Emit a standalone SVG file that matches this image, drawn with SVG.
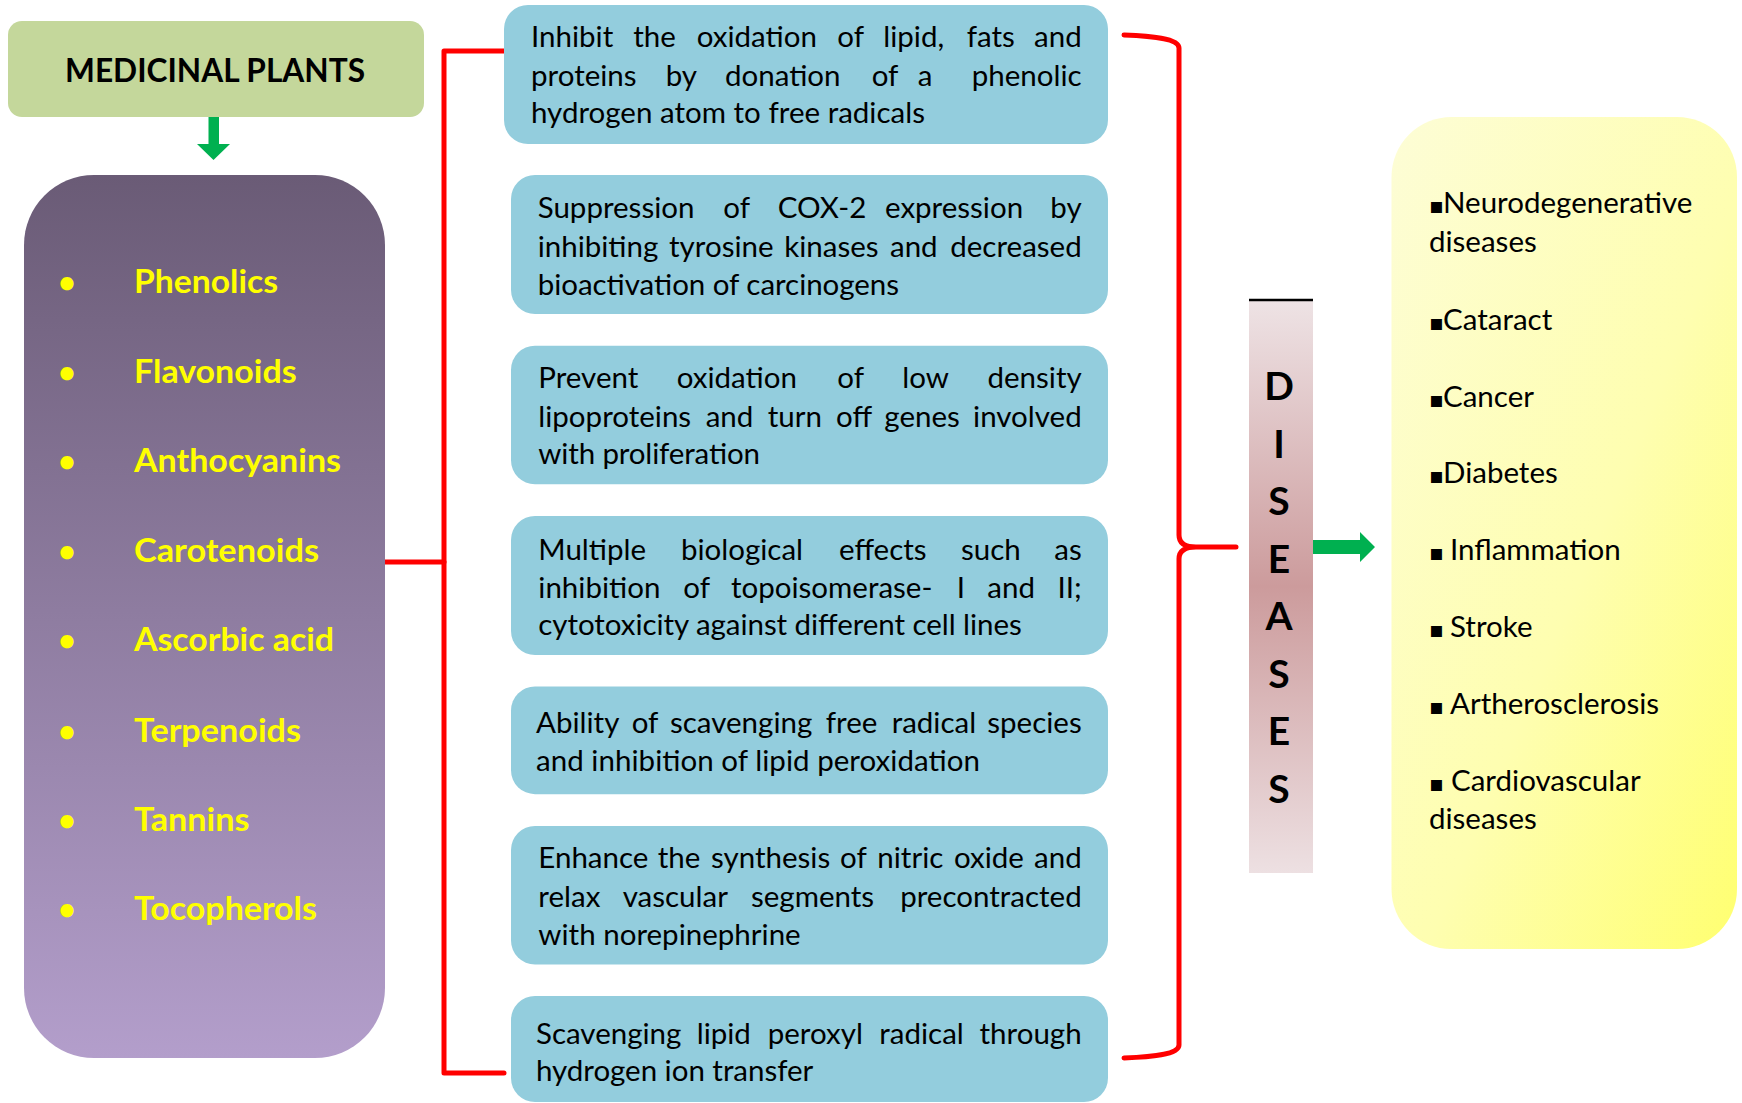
<svg xmlns="http://www.w3.org/2000/svg" width="1742" height="1103" viewBox="0 0 1742 1103">
<defs>
<linearGradient id="gPurple" x1="0" y1="0" x2="0" y2="1">
<stop offset="0" stop-color="#6a5b76"/>
<stop offset="1" stop-color="#b39ecb"/>
</linearGradient>
<linearGradient id="gDis" x1="0" y1="0" x2="0" y2="1">
<stop offset="0" stop-color="#eee3e5"/>
<stop offset="0.5" stop-color="#cc9b9c"/>
<stop offset="1" stop-color="#ede0e2"/>
</linearGradient>
<linearGradient id="gYellow" x1="0" y1="0" x2="1" y2="1">
<stop offset="0" stop-color="#fdfdd6"/>
<stop offset="0.55" stop-color="#fefeb0"/>
<stop offset="1" stop-color="#ffff70"/>
</linearGradient>
<style>
.blue{fill:#93cddd}
.t{font-family:Lato,"Liberation Sans",sans-serif;font-size:29.5px;fill:#000}
.e{text-anchor:end}
.it{font-family:Lato,"Liberation Sans",sans-serif;font-weight:bold;font-size:32.5px;fill:#ffff00}
.bu{font-family:Lato,"Liberation Sans",sans-serif;font-weight:bold;font-size:30px;fill:#ffff00;text-anchor:middle}
.ti{font-family:Lato,"Liberation Sans",sans-serif;font-weight:bold;font-size:32.5px;fill:#000}
.dl{font-family:Lato,"Liberation Sans",sans-serif;font-weight:bold;font-size:39px;fill:#000;text-anchor:middle}
.sq{font-family:"DejaVu Sans",sans-serif;font-size:22px}
.red{fill:none;stroke:#ff0000;stroke-width:5;stroke-linejoin:round;stroke-linecap:round}
.grn{fill:#00b050}
</style>
</defs>
<rect width="1742" height="1103" fill="#ffffff"/>

<g id="connectors">
<path class="red" d="M504,51 H444 V1073 H504"/>
<path class="red" d="M385,562 H444"/>
<path class="red" d="M1124,35 C1150,36 1179,38 1179,48 V535 Q1179,547 1196,547 L1236,547 M1196,547 Q1179,547 1179,559 V1045 C1179,1055 1150,1057 1124,1058"/>
<polygon class="grn" points="208.5,113 219,113 219,144 230,144 213.5,160 197,144 208.5,144"/>
<polygon class="grn" points="1313,540 1360,540 1360,532 1375,547 1360,562 1360,554 1313,554"/>
</g>

<g id="medicinal-plants">
<rect x="8" y="21" width="416" height="96" rx="14" fill="#c4d79b"/>
<text class="ti" x="65" y="82" textLength="300" lengthAdjust="spacingAndGlyphs">MEDICINAL PLANTS</text>
</g>

<g id="compounds">
<rect x="24" y="175" width="361" height="883" rx="70" fill="url(#gPurple)"/>
<text class="bu" x="67" y="293">•</text><text class="it" x="134" y="293" textLength="144" lengthAdjust="spacingAndGlyphs">Phenolics</text>
<text class="bu" x="67" y="382.5">•</text><text class="it" x="134" y="382.5" textLength="162.6" lengthAdjust="spacingAndGlyphs">Flavonoids</text>
<text class="bu" x="67" y="472">•</text><text class="it" x="134" y="472" textLength="207" lengthAdjust="spacingAndGlyphs">Anthocyanins</text>
<text class="bu" x="67" y="562">•</text><text class="it" x="134" y="562" textLength="185" lengthAdjust="spacingAndGlyphs">Carotenoids</text>
<text class="bu" x="67" y="651">•</text><text class="it" x="134" y="651" textLength="200" lengthAdjust="spacingAndGlyphs">Ascorbic acid</text>
<text class="bu" x="67" y="741.5">•</text><text class="it" x="134" y="741.5" textLength="167" lengthAdjust="spacingAndGlyphs">Terpenoids</text>
<text class="bu" x="67" y="831">•</text><text class="it" x="134" y="831" textLength="115.5" lengthAdjust="spacingAndGlyphs">Tannins</text>
<text class="bu" x="67" y="920">•</text><text class="it" x="134" y="920" textLength="183" lengthAdjust="spacingAndGlyphs">Tocopherols</text>
</g>

<g id="effect-1">
<rect class="blue" x="504" y="5" width="604" height="139" rx="24"/>
<text class="t" y="46.7"><tspan x="531">Inhibit</tspan><tspan x="633.3">the</tspan><tspan x="696.7">oxidation</tspan><tspan x="837.3">of</tspan><tspan x="883.3">lipid,</tspan><tspan x="966.7">fats</tspan><tspan class="e" x="1081.7">and</tspan></text>
<text class="t" y="86"><tspan x="531">proteins</tspan><tspan x="665.7">by</tspan><tspan x="725">donation</tspan><tspan x="871.7">of</tspan><tspan x="917.7">a</tspan><tspan class="e" x="1081.7">phenolic</tspan></text>
<text class="t" x="531" y="123.3" textLength="394" lengthAdjust="spacing">hydrogen atom to free radicals</text>
</g>

<g id="effect-2">
<rect class="blue" x="511" y="175" width="597" height="139" rx="24"/>
<text class="t" y="218.3"><tspan x="537.7">Suppression</tspan><tspan x="723.3">of</tspan><tspan x="777.7">COX-2</tspan><tspan x="885">expression</tspan><tspan class="e" x="1081.7">by</tspan></text>
<text class="t" y="256.7"><tspan x="537.7">inhibiting</tspan><tspan x="669">tyrosine</tspan><tspan x="784.3">kinases</tspan><tspan x="890">and</tspan><tspan class="e" x="1081.7">decreased</tspan></text>
<text class="t" x="537.7" y="295" textLength="361.3" lengthAdjust="spacing">bioactivation of carcinogens</text>
</g>

<g id="effect-3">
<rect class="blue" x="511" y="345.7" width="597" height="138.6" rx="24"/>
<text class="t" y="388.3"><tspan x="538.3">Prevent</tspan><tspan x="676.7">oxidation</tspan><tspan x="837.3">of</tspan><tspan x="902.3">low</tspan><tspan class="e" x="1081.7">density</tspan></text>
<text class="t" y="426.7"><tspan x="538.3">lipoproteins</tspan><tspan x="705.7">and</tspan><tspan x="767.7">turn</tspan><tspan x="836">off</tspan><tspan x="884.3">genes</tspan><tspan class="e" x="1081.7">involved</tspan></text>
<text class="t" x="538.3" y="464.3" textLength="221.7" lengthAdjust="spacing">with proliferation</text>
</g>

<g id="effect-4">
<rect class="blue" x="511" y="516" width="597" height="139" rx="24"/>
<text class="t" y="559.6"><tspan x="538.3">Multiple</tspan><tspan x="681">biological</tspan><tspan x="839">effects</tspan><tspan x="961">such</tspan><tspan class="e" x="1081.7">as</tspan></text>
<text class="t" y="598"><tspan x="538.3">inhibition</tspan><tspan x="683.3">of</tspan><tspan x="731">topoisomerase-</tspan><tspan x="956.7">I</tspan><tspan x="987.3">and</tspan><tspan class="e" x="1081.7">II;</tspan></text>
<text class="t" x="538.3" y="635.4" textLength="483.4" lengthAdjust="spacing">cytotoxicity against different cell lines</text>
</g>

<g id="effect-5">
<rect class="blue" x="511" y="686.5" width="597" height="107.7" rx="24"/>
<text class="t" y="732.7"><tspan x="536">Ability</tspan><tspan x="631.7">of</tspan><tspan x="670">scavenging</tspan><tspan x="825.7">free</tspan><tspan x="891.7">radical</tspan><tspan class="e" x="1081.7">species</tspan></text>
<text class="t" x="536" y="771" textLength="444" lengthAdjust="spacing">and inhibition of lipid peroxidation</text>
</g>

<g id="effect-6">
<rect class="blue" x="511" y="826" width="597" height="138.6" rx="24"/>
<text class="t" y="868"><tspan x="538.3">Enhance</tspan><tspan x="657.7">the</tspan><tspan x="711">synthesis</tspan><tspan x="840">of</tspan><tspan x="877.3">nitric</tspan><tspan x="954">oxide</tspan><tspan class="e" x="1081.7">and</tspan></text>
<text class="t" y="906.5"><tspan x="538.3">relax</tspan><tspan x="622.7">vascular</tspan><tspan x="751">segments</tspan><tspan class="e" x="1081.7">precontracted</tspan></text>
<text class="t" x="538.3" y="945" textLength="262.4" lengthAdjust="spacing">with norepinephrine</text>
</g>

<g id="effect-7">
<rect class="blue" x="511" y="996" width="597" height="106" rx="24"/>
<text class="t" y="1044"><tspan x="536">Scavenging</tspan><tspan x="696.7">lipid</tspan><tspan x="767.7">peroxyl</tspan><tspan x="879.3">radical</tspan><tspan class="e" x="1081.7">through</tspan></text>
<text class="t" x="536" y="1080.5" textLength="277.3" lengthAdjust="spacing">hydrogen ion transfer</text>
</g>

<g id="diseases-label">
<rect x="1249" y="300" width="64" height="573" fill="url(#gDis)"/>
<line x1="1249" y1="300" x2="1313" y2="300" stroke="#000" stroke-width="2.5"/>
<text class="dl"><tspan x="1279" y="400">D</tspan><tspan x="1279" y="457.6">I</tspan><tspan x="1279" y="515">S</tspan><tspan x="1279" y="572.6">E</tspan><tspan x="1279" y="630">A</tspan><tspan x="1279" y="688">S</tspan><tspan x="1279" y="745">E</tspan><tspan x="1279" y="803">S</tspan></text>
</g>

<g id="disease-list">
<rect x="1391.5" y="117" width="345.5" height="832" rx="60" fill="url(#gYellow)"/>
<text class="t" y="213"><tspan class="sq" x="1429">▪</tspan><tspan x="1443">Neurodegenerative</tspan><tspan x="1429" y="252">diseases</tspan></text>
<text class="t" y="330"><tspan class="sq" x="1429">▪</tspan><tspan x="1443">Cataract</tspan></text>
<text class="t" y="407"><tspan class="sq" x="1429">▪</tspan><tspan x="1443">Cancer</tspan></text>
<text class="t" y="483"><tspan class="sq" x="1429">▪</tspan><tspan x="1443">Diabetes</tspan></text>
<text class="t" y="560"><tspan class="sq" x="1429">▪ </tspan><tspan x="1450">Inflammation</tspan></text>
<text class="t" y="637"><tspan class="sq" x="1429">▪ </tspan><tspan x="1450">Stroke</tspan></text>
<text class="t" y="714"><tspan class="sq" x="1429">▪ </tspan><tspan x="1450">Artherosclerosis</tspan></text>
<text class="t" y="791"><tspan class="sq" x="1429">▪ </tspan><tspan x="1451">Cardiovascular</tspan><tspan x="1429" y="828.5">diseases</tspan></text>
</g>
</svg>
